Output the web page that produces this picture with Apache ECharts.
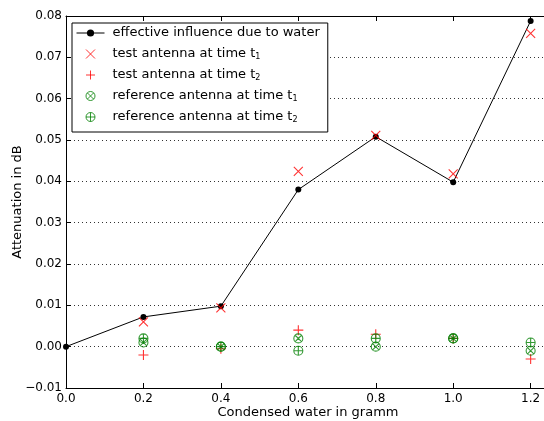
<!DOCTYPE html>
<html>
<head>
<meta charset="utf-8">
<script src="https://cdn.jsdelivr.net/npm/echarts@6/dist/echarts.min.js"></script>
<style>
  html, body { margin: 0; padding: 0; background: #fff; }
  #chart { width: 544px; height: 421px; }
</style>
</head>
<body>
<div id="chart"></div>
<script>
// condensed water (g) and attenuation (dB)
var waterGramm = [0, 0.2, 0.4, 0.6, 0.8, 1.0, 1.2];
var effective  = [0, 0.0072, 0.0098, 0.038, 0.0508, 0.0398, 0.0788];

var markerGramm = [0.2, 0.4, 0.6, 0.8, 1.0, 1.2];
var testT1 = [0.006, 0.0094, 0.0424, 0.0511, 0.0418, 0.0758];
var testT2 = [-0.002, -0.0005, 0.004, 0.003, 0.002, -0.003];
var refT1  = [0.001, 0.0, 0.002, 0.0, 0.002, -0.001];
var refT2  = [0.002, 0.0, -0.001, 0.002, 0.002, 0.001];

var names = [
    'effective influence due to water',
    'test antenna at time t1',
    'test antenna at time t2',
    'reference antenna at time t1',
    'reference antenna at time t2'
];

function pairs(xs, ys) {
    return xs.map(function (x, i) { return [x, ys[i]]; });
}

var FONT = 'DejaVu Sans';
var symX = 'path://M0,0L10,10M10,0L0,10';
var symPlus = 'path://M5,0L5,10M0,5L10,5';
var symCircX = 'path://M0,5A5,5,0,1,1,10,5A5,5,0,1,1,0,5ZM1.5,1.5L8.5,8.5M8.5,1.5L1.5,8.5';
var symCircPlus = 'path://M0,5A5,5,0,1,1,10,5A5,5,0,1,1,0,5ZM5,0L5,10M0,5L10,5';

function markerSeries(name, ys, symbol, color, size) {
    return {
        name: name,
        type: 'scatter',
        data: pairs(markerGramm, ys),
        symbol: symbol,
        symbolSize: size,
        itemStyle: { color: 'rgba(0,0,0,0)', borderColor: color, borderWidth: 1.1 },
        emphasis: { disabled: true },
        z: 3
    };
}

var chart = echarts.init(document.getElementById('chart'));

var option = {
    animation: false,
    textStyle: { fontFamily: FONT },
    grid: { left: 66, right: -6, top: 16, bottom: 33, outerBoundsMode: 'none', containLabel: false },
    legend: {
        orient: 'vertical',
        left: 72,
        top: 23,
        data: names,
        itemWidth: 28,
        itemHeight: 9,
        itemGap: 7,
        padding: [3, 8, 8, 4],
        borderColor: '#000',
        borderWidth: 1,
        backgroundColor: '#fff',
        selectedMode: false,
        itemStyle: { borderWidth: 1 },
        lineStyle: { width: 1 },
        formatter: function (n) {
            return n.replace(/t(\d)$/, 't{s|$1}');
        },
        textStyle: {
            fontFamily: FONT,
            fontSize: 13,
            color: '#000',
            padding: [0, 0, 0, 3],
            lineHeight: 14,
            rich: {
                s: { fontSize: 8, fontFamily: FONT, color: '#000', padding: [6, 0, 0, 0] }
            }
        }
    },
    xAxis: [{
        type: 'value',
        min: 0,
        max: 1.25,
        interval: 0.2,
        name: 'Condensed water in gramm',
        nameLocation: 'middle',
        nameGap: 18,
        nameMoveOverlap: false,
        nameTextStyle: { fontFamily: FONT, fontSize: 13, color: '#000' },
        axisLine: { onZero: false, lineStyle: { color: '#000', width: 1 } },
        axisTick: { inside: true, length: 5, lineStyle: { color: '#000' } },
        axisLabel: {
            fontFamily: FONT, fontSize: 12, color: '#000', margin: 5,
            showMaxLabel: false,
            formatter: function (v) { return v.toFixed(1); }
        },
        splitLine: { show: false }
    }, {
        type: 'value',
        position: 'top',
        min: 0,
        max: 1.25,
        interval: 0.2,
        axisLine: { onZero: false, lineStyle: { color: '#000', width: 1 } },
        axisTick: { inside: true, length: 5, lineStyle: { color: '#000' } },
        axisLabel: { show: false },
        splitLine: { show: false }
    }],
    yAxis: {
        type: 'value',
        min: -0.01,
        max: 0.08,
        interval: 0.01,
        name: 'Attenuation in dB',
        nameLocation: 'middle',
        nameGap: 42,
        nameMoveOverlap: false,
        nameTextStyle: { fontFamily: FONT, fontSize: 13, color: '#000' },
        axisLine: { show: true, onZero: false, lineStyle: { color: '#000', width: 1 } },
        axisTick: { inside: true, length: 5, lineStyle: { color: '#000' } },
        axisLabel: {
            fontFamily: FONT, fontSize: 12, color: '#000', margin: 4,
            formatter: function (v) { return v.toFixed(2).replace('-', '\u2212'); }
        },
        splitLine: { show: true, lineStyle: { color: '#333', width: 1, type: [1, 3] } }
    },
    series: [
        {
            name: names[0],
            type: 'line',
            data: pairs(waterGramm, effective),
            symbol: 'circle',
            symbolSize: 6,
            showAllSymbol: true,
            lineStyle: { color: '#000', width: 1 },
            itemStyle: { color: '#000' },
            emphasis: { disabled: true },
            z: 2
        },
        markerSeries(names[1], testT1, symX, '#ff0000', 9),
        markerSeries(names[2], testT2, symPlus, '#ff0000', 10),
        markerSeries(names[3], refT1, symCircX, '#008000', 9),
        markerSeries(names[4], refT2, symCircPlus, '#008000', 9)
    ]
};

chart.setOption(option);
</script>
</body>
</html>
